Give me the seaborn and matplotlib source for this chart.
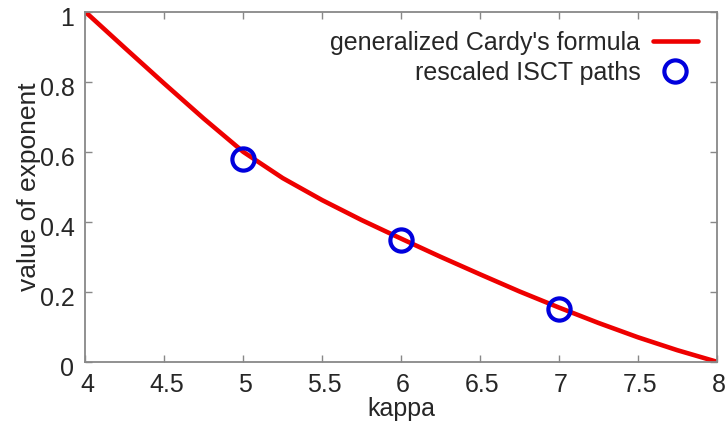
import matplotlib
matplotlib.use("Agg")
import matplotlib.pyplot as plt
import matplotlib.transforms as mtransforms
import seaborn as sns
import pandas as pd

# Curve values
curve_kappa = [4.0, 4.25, 4.5, 4.75, 5.0, 5.25, 5.5, 5.75, 6.0, 6.25, 6.5, 6.75, 7.0, 7.25, 7.5, 7.75, 8.0]
curve_value = [1.0, 0.897, 0.795, 0.695, 0.600, 0.525, 0.462, 0.405, 0.352, 0.30, 0.25, 0.201, 0.155, 0.111, 0.07, 0.033, 0.0]

# Simulation points
point_kappa = [5, 6, 7]
point_value = [0.58, 0.348, 0.150]

x_ticks = [4, 4.5, 5, 5.5, 6, 6.5, 7, 7.5, 8]
x_tick_labels = ["4", "4.5", "5", "5.5", "6", "6.5", "7", "7.5", "8"]
y_ticks = [0, 0.2, 0.4, 0.6, 0.8, 1]
y_tick_labels = ["0", "0.2", "0.4", "0.6", "0.8", "1"]

sns.set_style("ticks")
plt.rcParams["font.family"] = ["Liberation Sans", "DejaVu Sans"]

curve_df = pd.DataFrame({"kappa": curve_kappa, "value": curve_value})
point_df = pd.DataFrame({"kappa": point_kappa, "value": point_value})

fig = plt.figure(figsize=(7.27, 4.24), dpi=100)
ax = fig.add_axes([0.1176, 0.1469, 0.8682, 0.8248])

sns.lineplot(data=curve_df, x="kappa", y="value", ax=ax, color="#ee0000",
             linewidth=3.3, label="generalized Cardy's formula")
sns.lineplot(data=point_df, x="kappa", y="value", ax=ax, linestyle="none",
             marker="o", markersize=16, markerfacecolor="none",
             markeredgecolor="#0000dd", markeredgewidth=3.0,
             label="rescaled ISCT paths")

ax.set_xlim(4, 8)
ax.set_ylim(0, 1)
ax.set_xticks(x_ticks)
ax.set_xticklabels(x_tick_labels)
ax.set_yticks(y_ticks)
ax.set_yticklabels(y_tick_labels)
ax.tick_params(axis="both", direction="in", length=5, width=1, color="#888888",
               labelsize=18, top=True, right=True)
ax.tick_params(axis="x", pad=8)
ax.tick_params(axis="y", pad=8)
# shift y tick labels slightly downward, like the reference
offset = mtransforms.ScaledTranslation(0, -5 / 100, fig.dpi_scale_trans)
for lab in ax.get_yticklabels():
    lab.set_transform(lab.get_transform() + offset)
offset_x = mtransforms.ScaledTranslation(2 / 100, 0, fig.dpi_scale_trans)
for lab in ax.get_xticklabels():
    lab.set_transform(lab.get_transform() + offset_x)

for s in ax.spines.values():
    s.set_color("#888888")
    s.set_linewidth(1.3)
ax.set_xlabel("kappa", fontsize=18, labelpad=0)
ax.set_ylabel("value of exponent", fontsize=19, labelpad=-1)

leg = ax.legend(loc="upper right", frameon=False, markerfirst=False, fontsize=18,
                handlelength=1.8, handletextpad=0.5, borderaxespad=0.35,
                borderpad=0.4, labelspacing=0.25)

fig.savefig("out.png", dpi=100)
